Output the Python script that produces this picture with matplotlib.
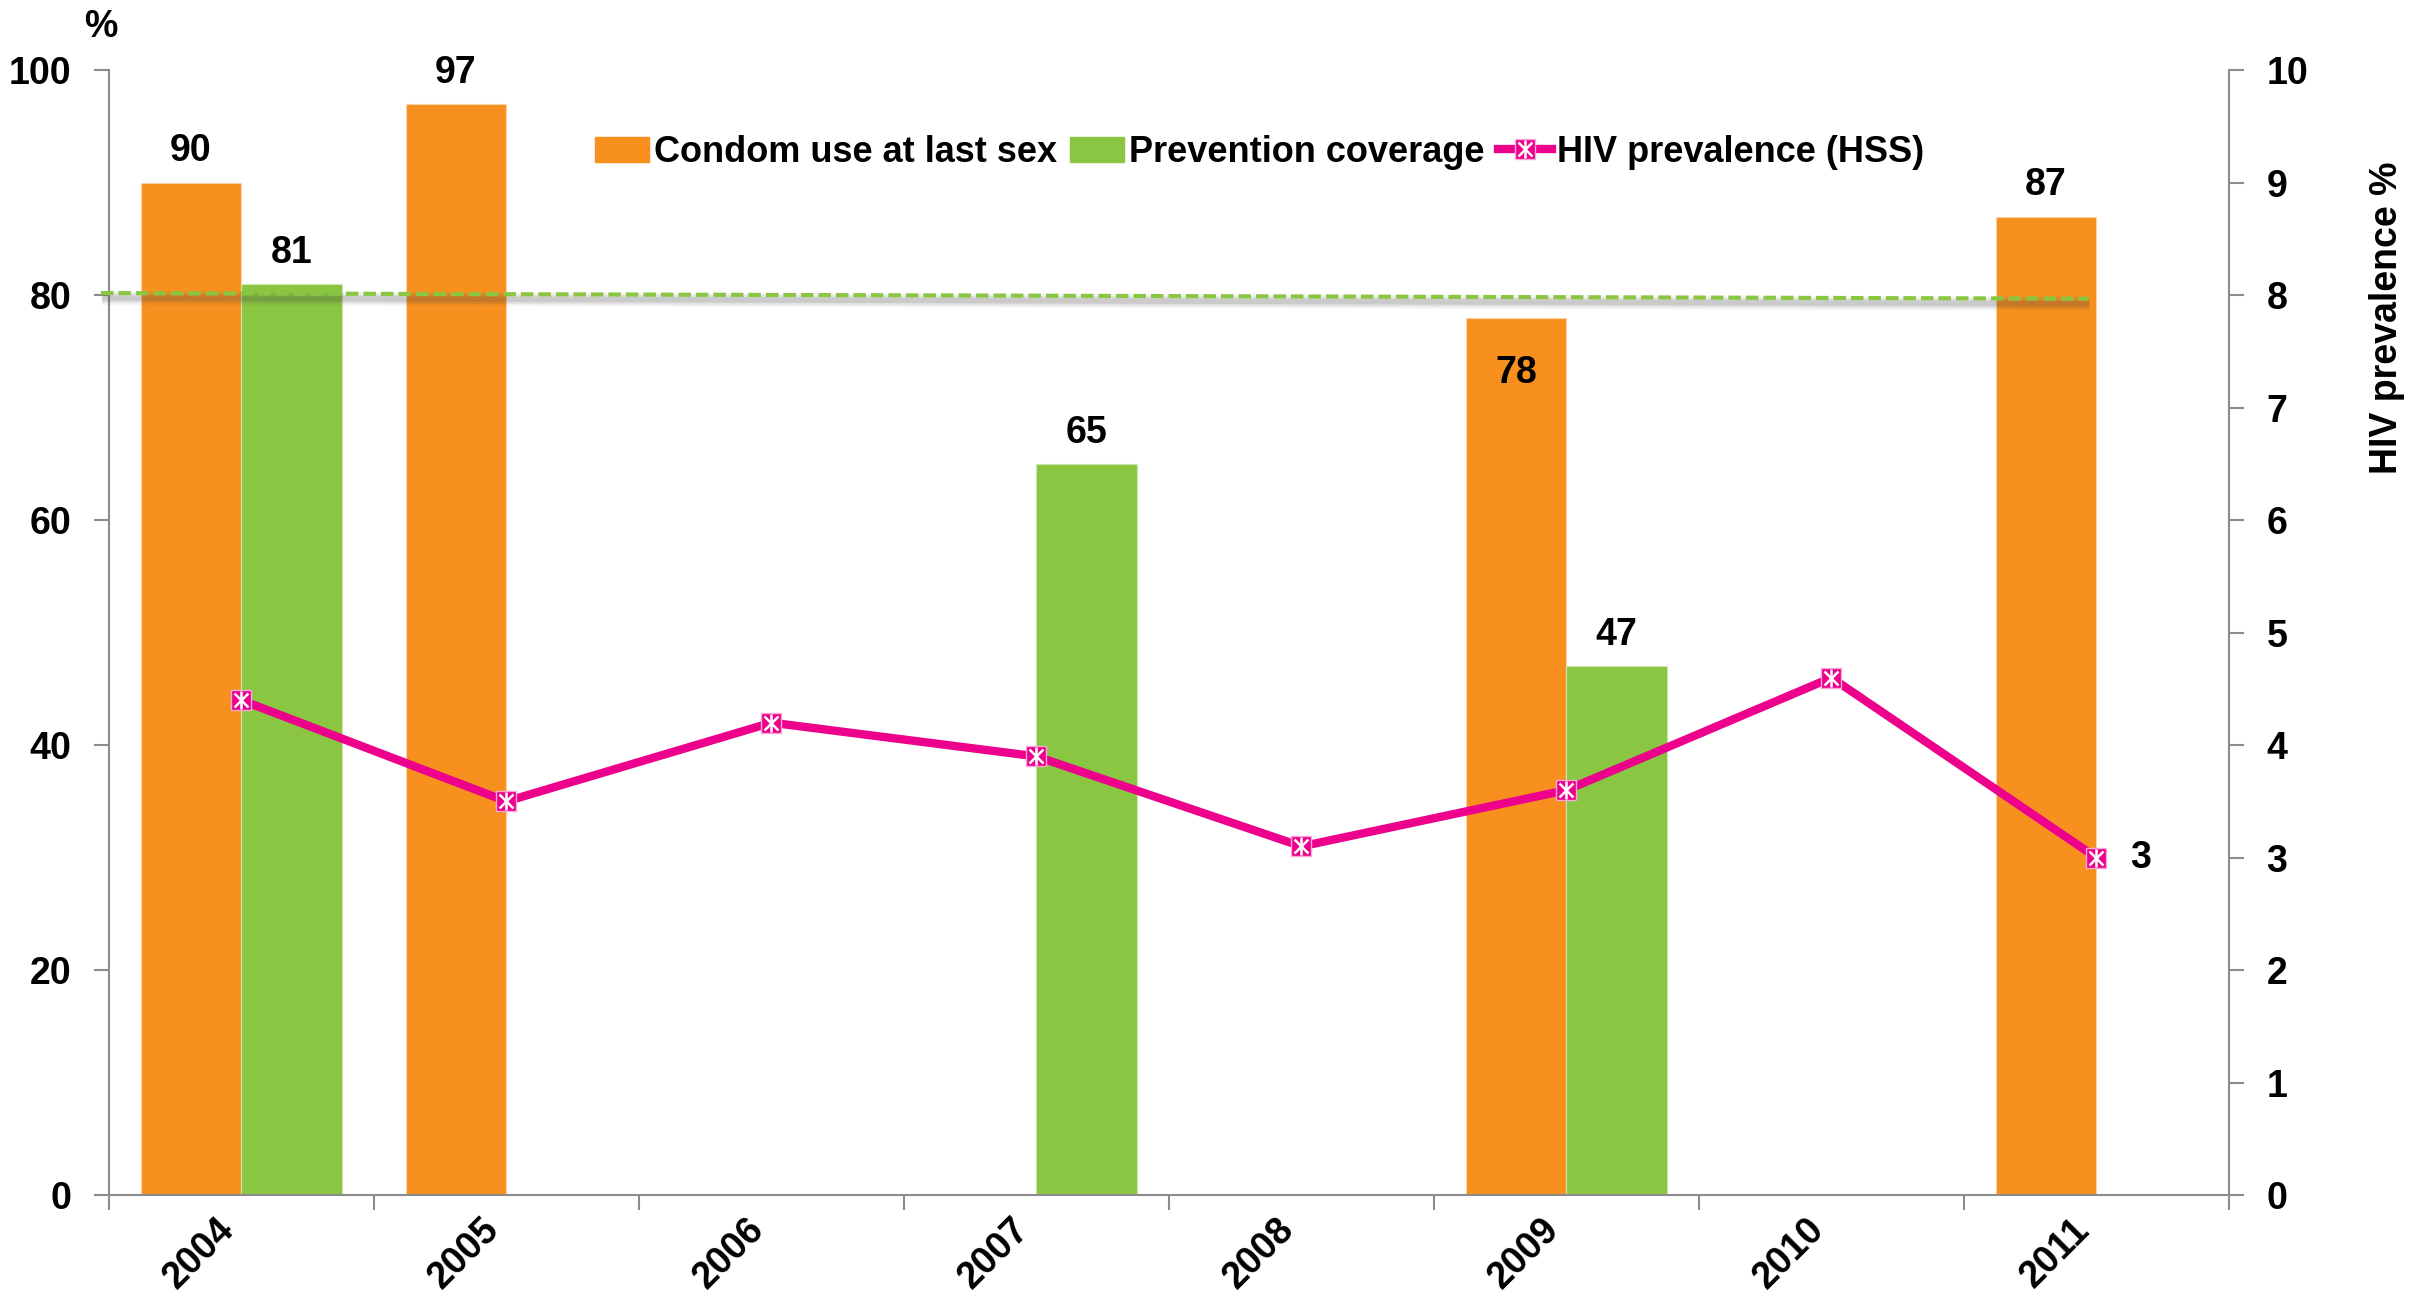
import matplotlib
matplotlib.use('Agg')
import matplotlib.pyplot as plt
import matplotlib.transforms as mtransforms
from matplotlib.lines import Line2D
from matplotlib.patches import Patch
import numpy as np

plt.rcParams['font.family'] = ['Liberation Sans', 'DejaVu Sans']
plt.rcParams['font.weight'] = 'bold'

years = ['2004', '2005', '2006', '2007', '2008', '2009', '2010', '2011']
condom_use = [90, 97, np.nan, np.nan, np.nan, 78, np.nan, 87]
prevention = [81, np.nan, np.nan, 65, np.nan, 47, np.nan, np.nan]
hiv_prev = [4.4, 3.5, 4.2, 3.9, 3.1, 3.6, 4.6, 3.0]
target_x = [-0.53, 6.97]
target_y = [80.2, 79.7]

orange = '#F7901E'
green = '#8AC642'
pink = '#EC008C'
grey = '#8C8C8C'
fs = 27

fig = plt.figure(figsize=(24.36, 13.04), dpi=100)
ax = fig.add_axes([0.0447, 0.0836, 0.8703, 0.8624])
ax2 = ax.twinx()

x = np.arange(len(years))
w = 0.38
ax.bar(x - w/2, condom_use, w, color=orange, edgecolor='#FBD3A8', linewidth=0.8)
ax.bar(x + w/2, prevention, w, color=green, edgecolor='#CDE6B0', linewidth=0.8)

# value labels over bars ("78" sits inside its bar)
for i, v in enumerate(condom_use):
    if np.isnan(v):
        continue
    yy = v - 4.9 if years[i] == '2009' else v + 2.8
    ax.text(x[i] - w/2, yy, f'{v:.0f}', ha='center', va='center', fontsize=fs, fontweight='bold')
for i, v in enumerate(prevention):
    if np.isnan(v):
        continue
    ax.text(x[i] + w/2, v + 2.8, f'{v:.0f}', ha='center', va='center', fontsize=fs, fontweight='bold')

# dashed 80% target line with a soft shadow under it
for lw_s, a in [(10, 0.06), (7, 0.1), (4, 0.15)]:
    shadow_tr = ax.transData + mtransforms.ScaledTranslation(0.01, -0.05, fig.dpi_scale_trans)
    ax.plot(target_x, target_y, color='#444444', lw=lw_s, alpha=a, transform=shadow_tr,
            clip_on=False, zorder=2.9, solid_capstyle='butt')
ax.plot(target_x, target_y, color=green, lw=3, dashes=(3, 1.2), clip_on=False, zorder=3)

# HIV prevalence line
ax2.plot(x, hiv_prev, color=pink, lw=6, zorder=4)
ax2.plot(x, hiv_prev, ls='none', marker='s', ms=15, mfc=pink, mec='#F7A8D3', mew=1, zorder=5)
ax2.plot(x, hiv_prev, ls='none', marker='x', ms=10, mec='white', mew=1.8, zorder=6)
ax2.plot(x, hiv_prev, ls='none', marker='|', ms=13, mec='white', mew=1.8, zorder=6)
ax2.annotate(f'{hiv_prev[-1]:.0f}', (x[-1], hiv_prev[-1]), xytext=(24, 0), textcoords='offset points',
             ha='left', va='center', fontsize=fs, fontweight='bold')

ax.set_xlim(-0.5, 7.5)
ax.set_ylim(0, 100)
ax2.set_ylim(0, 10)

ax.set_xticks(np.arange(-0.5, 8, 1))
ax.set_xticklabels([])
ax.set_xticks(x, minor=True)
ax.set_xticklabels(years, minor=True, rotation=45, ha='right', fontsize=fs, fontweight='bold')
shift = mtransforms.ScaledTranslation(0.15, 0, fig.dpi_scale_trans)
for lab in ax.get_xticklabels(minor=True):
    lab.set_transform(lab.get_transform() + shift)
ax.tick_params(axis='x', which='minor', length=0, pad=12)
ax.tick_params(axis='x', which='major', length=11, width=1.5, color=grey, direction='out')

ax.set_yticks(np.arange(0, 101, 20))
ax.tick_params(axis='y', length=11, width=1.5, color=grey, pad=16, labelsize=fs)
ax2.set_yticks(np.arange(0, 11, 1))
ax2.tick_params(axis='y', length=11, width=1.5, color=grey, pad=16, labelsize=fs)

for s in ['top', 'right']:
    ax.spines[s].set_visible(False)
for s in ['top', 'left', 'bottom']:
    ax2.spines[s].set_visible(False)
ax.spines['left'].set_color(grey)
ax.spines['bottom'].set_color(grey)
ax2.spines['right'].set_color(grey)
for sp in [ax.spines['left'], ax.spines['bottom'], ax2.spines['right']]:
    sp.set_linewidth(1.5)

ax.text(-0.004, 1.039, '%', transform=ax.transAxes, ha='center', va='center', fontsize=fs, fontweight='bold')
fig.text(0.980, 0.756, 'HIV prevalence %', rotation=90, ha='center', va='center', fontsize=fs, fontweight='bold')

h1 = Patch(color=orange)
h2 = Patch(color=green)
h3 = (Line2D([], [], color=pink, lw=6, marker='s', ms=15, mfc=pink, mec='#F7A8D3'),
      Line2D([], [], ls='none', marker='x', ms=10, mec='white', mew=1.8),
      Line2D([], [], ls='none', marker='|', ms=13, mec='white', mew=1.8))
fig.legend([h1, h2, h3], ['Condom use at last sex', 'Prevention coverage', 'HIV prevalence (HSS)'],
           loc='center', bbox_to_anchor=(0.517, 0.883), ncol=3, frameon=False, fontsize=26,
           handlelength=1.5, handletextpad=0.15, columnspacing=0.35, borderpad=0)

fig.savefig('out.png', dpi=100)
